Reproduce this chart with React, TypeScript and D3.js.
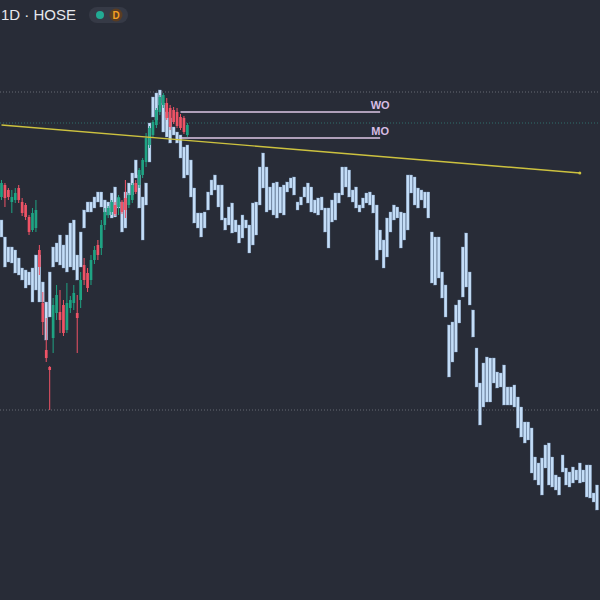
import React from "react";
import * as d3 from "d3";

// Light-blue range bars (high / low per session)
const blueHigh = [
  38.0, 36.3, 35.3, 35.3, 35.0, 34.2, 33.2, 33.0, 32.8, 33.2, 34.5, 34.5, 31.8, 29.8, 32.8, 35.3, 35.7, 36.5, 35.5, 36.5,
  37.7, 38.0, 34.5, 36.8, 39.0, 39.8, 39.8, 40.3, 40.8, 40.8, 40.0, 39.8, 40.7, 41.3, 40.2, 39.8, 40.8, 41.7, 42.7, 44.0,
  42.5, 40.3, 41.7, 47.7, 50.3, 50.7, 51.0, 49.7, 48.8, 48.2, 47.3, 46.8, 46.5, 45.3, 45.5, 44.0, 41.2, 38.7, 38.7, 38.8,
  40.8, 42.0, 42.5, 41.5, 41.5, 38.2, 39.3, 39.7, 38.0, 37.5, 38.5, 38.0, 37.5, 39.7, 39.8, 43.3, 44.7, 43.3, 41.3, 41.7,
  41.8, 41.3, 41.5, 41.8, 42.2, 42.3, 39.8, 40.3, 41.3, 41.7, 41.3, 40.0, 40.2, 40.3, 39.2, 39.2, 40.0, 40.7, 40.7, 43.3,
  43.3, 43.0, 41.0, 41.3, 39.5, 40.2, 40.7, 40.8, 40.5, 39.5, 37.0, 36.0, 38.2, 38.8, 39.5, 39.3, 38.8, 38.7, 42.5, 42.5,
  42.3, 41.2, 41.0, 40.8, 40.8, 36.8, 36.3, 36.3, 32.8, 31.5, 27.5, 27.8, 29.5, 30.0, 35.3, 36.7, 32.8, 29.0, 25.2, 21.7,
  23.7, 24.3, 24.2, 24.2, 22.8, 22.7, 23.5, 21.3, 21.3, 21.5, 20.3, 19.3, 17.8, 17.8, 17.2, 14.3, 13.7, 14.2, 15.5, 15.7,
  14.3, 12.5, 12.3, 14.5, 13.2, 12.8, 13.3, 13.0, 13.7, 13.0, 13.5, 13.5, 10.7, 11.5,
];
const blueLow = [
  36.3, 33.3, 33.8, 33.7, 32.7, 32.5, 32.0, 31.2, 31.5, 29.8, 31.0, 29.8, 29.8, 26.0, 28.3, 33.3, 33.8, 33.5, 33.2, 32.8,
  33.3, 33.0, 32.0, 33.3, 37.2, 38.8, 38.8, 39.2, 39.8, 39.3, 38.8, 38.5, 38.2, 38.3, 39.2, 36.8, 37.2, 40.5, 40.5, 42.2,
  39.2, 36.0, 39.5, 43.8, 48.3, 48.0, 49.5, 46.8, 46.3, 45.7, 46.5, 45.7, 44.2, 42.2, 42.5, 40.3, 37.7, 37.2, 36.3, 37.2,
  39.0, 40.5, 41.0, 39.3, 38.0, 37.0, 37.5, 36.7, 36.8, 35.7, 36.2, 37.2, 34.7, 35.5, 36.5, 39.5, 41.2, 38.8, 39.0, 38.5,
  38.2, 38.7, 38.5, 40.8, 41.2, 40.5, 39.0, 39.5, 40.3, 39.7, 38.8, 38.7, 38.5, 39.0, 36.8, 35.2, 37.8, 38.0, 39.7, 40.5,
  41.3, 40.3, 39.8, 39.2, 38.8, 39.2, 39.7, 39.5, 38.7, 34.0, 35.0, 33.2, 34.3, 36.8, 38.0, 38.2, 35.2, 36.0, 37.0, 40.7,
  39.5, 39.2, 40.0, 39.2, 38.2, 31.7, 31.5, 32.2, 30.2, 28.3, 22.3, 23.8, 24.8, 27.7, 30.3, 31.3, 29.5, 26.3, 21.3, 17.5,
  19.3, 19.8, 19.8, 21.7, 21.2, 21.3, 19.5, 19.5, 19.5, 19.3, 17.2, 16.3, 15.7, 16.0, 12.7, 12.0, 11.5, 10.5, 13.2, 11.5,
  11.3, 11.0, 10.5, 12.8, 11.5, 11.3, 11.7, 12.0, 11.7, 11.8, 10.3, 10.2, 9.8, 9.0,
];

// Green / red candles (overlay symbol)
const candleOpen = [
  40.3, 41.5, 41.0, 39.8, 40.0, 41.2, 39.8, 39.5, 38.3, 37.0, 37.2, 35.0, 29.7, 25.0, 23.3, 26.2, 28.7, 28.8, 29.5, 27.0,
  29.2, 29.7, 28.7, 30.0, 33.5, 32.7, 32.0, 34.0, 35.5, 35.2, 37.5, 38.5, 38.8, 39.5, 39.3, 39.8, 40.2, 39.5, 40.0, 41.7,
  41.5, 42.5, 43.8, 45.5, 46.5, 47.5, 48.8, 49.5, 49.7, 49.2, 49.0, 48.8, 48.3, 48.2, 46.5,
];
const candleHigh = [
  42.0, 41.7, 41.2, 41.0, 41.2, 41.5, 40.2, 39.7, 38.5, 39.2, 40.0, 35.5, 30.8, 28.2, 23.4, 30.2, 31.5, 31.0, 30.0, 31.7,
  30.4, 31.5, 30.5, 32.8, 34.2, 33.2, 34.5, 35.4, 36.0, 38.0, 39.2, 39.4, 40.0, 39.8, 40.5, 40.0, 42.0, 40.7, 41.7, 42.0,
  43.2, 44.2, 46.7, 47.4, 48.0, 49.2, 50.5, 50.7, 50.2, 49.5, 49.3, 49.2, 48.6, 48.4, 47.7,
];
const candleLow = [
  40.0, 39.3, 40.0, 38.7, 39.7, 39.7, 38.4, 38.0, 36.5, 36.8, 36.8, 32.5, 26.5, 23.8, 19.0, 24.7, 28.0, 26.7, 26.4, 26.7,
  28.7, 29.0, 24.7, 29.2, 31.5, 30.8, 31.5, 33.6, 34.0, 34.5, 37.0, 38.2, 38.5, 38.4, 38.5, 38.6, 38.2, 39.2, 39.7, 40.6,
  41.2, 42.2, 43.3, 45.2, 46.2, 47.2, 48.5, 49.2, 48.0, 47.0, 47.6, 47.2, 47.0, 46.6, 46.3,
];
const candleClose = [
  41.7, 40.2, 40.3, 40.3, 40.7, 40.0, 38.7, 38.3, 36.8, 38.7, 39.0, 33.3, 27.8, 24.2, 23.0, 29.5, 30.5, 28.0, 26.7, 29.7,
  30.0, 30.7, 28.2, 32.0, 32.0, 31.2, 34.0, 35.0, 34.5, 37.5, 38.8, 39.2, 39.8, 38.6, 40.3, 38.8, 39.0, 40.5, 41.5, 40.8,
  43.0, 44.0, 46.2, 47.2, 47.8, 49.0, 50.3, 50.5, 48.2, 47.3, 47.8, 47.4, 47.2, 46.8, 47.5,
];

// Horizontal price levels
const dottedLevels = [50.8, 19.0];
const tealLevel = 47.7;
const labelledLevels = [
  { name: "WO", price: 48.8 },
  { name: "MO", price: 46.2 },
];
const labelledRange = [52, 110];
const trendIdx = [0, 168];
const trendPrice = [47.5, 42.7];

const W = 600;
const H = 600;

export default function App() {
  const x = d3.scaleLinear().domain([0, blueHigh.length - 1]).range([1.5, 597]);
  const y = d3.scaleLinear().domain([0, 60]).range([H, 0]);
  const barW = 2.9;
  const bodyW = 2.7;
  const green = "#1fa383";
  const red = "#ef5366";

  return (
    <svg
      width={W}
      height={H}
      style={{ position: "absolute", left: 0, top: 0, display: "block" }}
      fontFamily="'Liberation Sans', Arial, sans-serif"
    >
      <rect x={0} y={0} width={W} height={H} fill="#282c37" />

      {dottedLevels.map((p, i) => (
        <line key={"dl" + i} x1={0} x2={W} y1={y(p)} y2={y(p)} stroke="#666a75" strokeWidth={1} strokeDasharray="1 2" />
      ))}
      <line x1={0} x2={W} y1={y(tealLevel)} y2={y(tealLevel)} stroke="#2f6f6c" strokeWidth={1} strokeDasharray="1 2" />

      {blueHigh.map((h, i) => (
        <rect
          key={"b" + i}
          x={x(i) - barW / 2}
          y={y(h)}
          width={barW}
          height={Math.max(1, y(blueLow[i]) - y(h))}
          fill="#c4ddf7"
          stroke="#7f9fc4"
          strokeWidth={0.35}
        />
      ))}

      {candleOpen.map((o, i) => {
        const c = candleClose[i];
        const col = c >= o ? green : red;
        const top = y(Math.max(o, c));
        const bot = y(Math.min(o, c));
        return (
          <g key={"c" + i}>
            <line x1={x(i)} x2={x(i)} y1={y(candleHigh[i])} y2={y(candleLow[i])} stroke={col} strokeWidth={1} />
            <rect x={x(i) - bodyW / 2} y={top} width={bodyW} height={Math.max(1, bot - top)} fill={col} />
          </g>
        );
      })}

      <line
        x1={x(trendIdx[0])}
        x2={x(trendIdx[1])}
        y1={y(trendPrice[0])}
        y2={y(trendPrice[1])}
        stroke="#cdc23f"
        strokeWidth={1.4}
      />
      <circle cx={x(trendIdx[1])} cy={y(trendPrice[1])} r={1.5} fill="#cdc23f" />

      {labelledLevels.map((l) => (
        <g key={l.name}>
          <line
            x1={x(labelledRange[0])}
            x2={x(labelledRange[1])}
            y1={y(l.price)}
            y2={y(l.price)}
            stroke="#dcc6e6"
            strokeWidth={1.3}
          />
          <text
            x={x(labelledRange[1])}
            y={y(l.price) - 3.5}
            textAnchor="middle"
            fontSize={11}
            fontWeight={600}
            fill="#d7bce3"
          >
            {l.name}
          </text>
        </g>
      ))}

      <text x={1} y={20} fontSize={15} fill="#e6e8ee">
        1D · HOSE
      </text>
      <rect x={89} y={7} width={39} height={16} rx={8} fill="#363a46" />
      <circle cx={100} cy={15} r={4} fill="#22ab94" />
      <circle cx={116} cy={15} r={6.5} fill="#5b3d22" />
      <text x={116} y={19} textAnchor="middle" fontSize={10} fontWeight={700} fill="#f5a023">
        D
      </text>
    </svg>
  );
}
